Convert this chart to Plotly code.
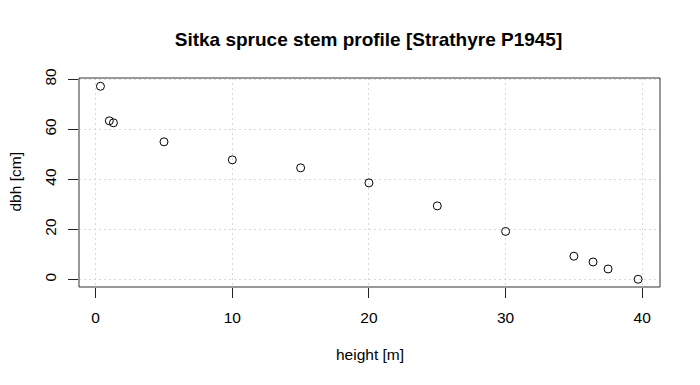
import plotly.graph_objects as go

height_m = [0.35, 1.0, 1.3, 5.0, 10.0, 15.0, 20.0, 25.0, 30.0, 35.0, 36.4, 37.5, 39.7]
dbh_cm = [77.2, 63.4, 62.6, 55.0, 47.8, 44.6, 38.6, 29.4, 19.2, 9.3, 7.0, 4.2, 0.1]
x_ticks = [0, 10, 20, 30, 40]
y_ticks = [0, 20, 40, 60, 80]

FONT = "Liberation Sans, Arial, Helvetica, sans-serif"
OFF = 8  # default page body margin in the written HTML

W, H = 700 - OFF, 385 - OFF
L, T, PW, PH = 79 - OFF, 78 - OFF, 581, 209

fig = go.Figure()
fig.add_trace(go.Scatter(
    x=height_m, y=dbh_cm, mode="markers",
    marker=dict(symbol="circle-open", size=8, color="black", line=dict(width=1, color="black")),
    showlegend=False, hoverinfo="x+y",
))

axis_common = dict(
    showline=False, zeroline=False, automargin=False,
    showgrid=True, gridcolor="#d9d9d9", griddash="2px,3px", gridwidth=1,
    ticks="outside", ticklen=10, tickwidth=1, tickcolor="#222222",
    tickfont=dict(family=FONT, size=15.5, color="black"),
    mirror=False,
)

fig.update_xaxes(range=[-1.22, 41.3], tickvals=x_ticks, ticktext=[str(v) for v in x_ticks],
                 ticklabelstandoff=6, **axis_common)
fig.update_yaxes(range=[-3.0, 80.5], tickvals=y_ticks, ticktext=[str(v) for v in y_ticks],
                 tickangle=-90, ticklabelstandoff=6, **axis_common)

fig.add_shape(type="rect", xref="paper", yref="paper", x0=0, y0=0, x1=1, y1=1,
              line=dict(color="#333333", width=1))

fig.update_layout(
    template="none",
    width=W, height=H,
    margin=dict(l=L, r=W - L - PW, t=T, b=H - T - PH, autoexpand=False),
    paper_bgcolor="white", plot_bgcolor="white",
    font=dict(family=FONT, color="black"),
    title=dict(text="<b>Sitka spruce stem profile [Strathyre P1945]</b>",
               x=(368.5 - OFF) / W, xanchor="center", y=1 - (39 - OFF) / H, yanchor="middle",
               font=dict(family=FONT, size=19, color="black")),
    annotations=[
        dict(text="height [m]", xref="paper", yref="paper", x=0.5, y=-(354 - 287) / PH,
             xanchor="center", yanchor="middle", showarrow=False,
             font=dict(family=FONT, size=15.5, color="black")),
        dict(text="dbh [cm]", xref="paper", yref="paper", x=-(79 - 15) / PW, y=0.5,
             xanchor="center", yanchor="middle", textangle=-90, showarrow=False,
             font=dict(family=FONT, size=15.5, color="black")),
    ],
)

fig.write_html("out.html")
